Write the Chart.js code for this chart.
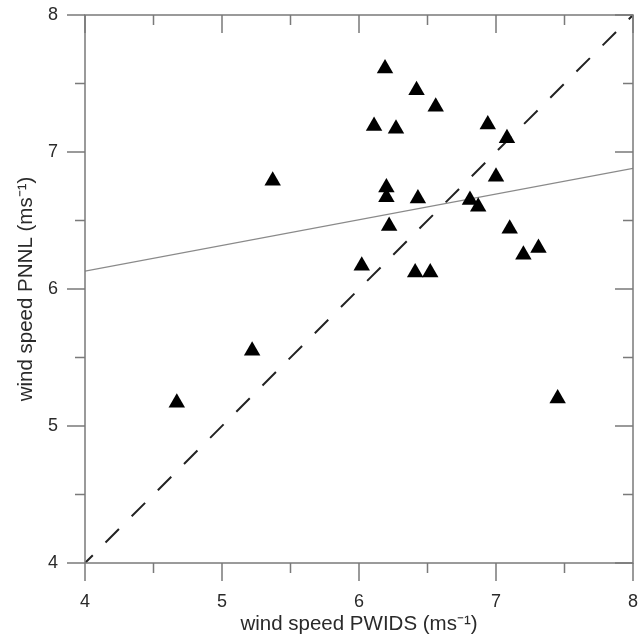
<!DOCTYPE html>
<html>
<head>
<meta charset="utf-8">
<script src="https://cdn.jsdelivr.net/npm/chart.js@4/dist/chart.umd.min.js"></script>
<style>
  html, body { margin: 0; padding: 0; background: #fff; }
  #wrap { width: 638px; height: 637px; }
</style>
</head>
<body>
<div id="wrap"><canvas id="windChart"></canvas></div>
<script>
// wind speed pairs (ms-1)
const pwidsSpeed = [6.19, 6.42, 6.56, 6.11, 6.27, 6.94, 7.08, 7.00, 6.20, 6.20, 6.43, 6.81,
                    6.87, 6.22, 7.10, 7.31, 7.20, 6.02, 6.41, 6.52, 5.37, 4.67, 5.22, 7.45];
const pnnlSpeed  = [7.61, 7.45, 7.33, 7.19, 7.17, 7.20, 7.10, 6.82, 6.74, 6.67, 6.66, 6.65,
                    6.60, 6.46, 6.44, 6.30, 6.25, 6.17, 6.12, 6.12, 6.79, 5.17, 5.55, 5.20];

// regression line end points and the 1:1 line
const fitX = [4, 8];
const fitY = [6.13, 6.88];
const oneToOne = [4, 8];

const axisMin = 4;
const axisMax = 8;
const majorTicks = [4, 5, 6, 7, 8];
const minorTicks = [4.5, 5.5, 6.5, 7.5];

const axisGray = '#7a7a7a';
const textGray = '#2a2a2a';

const pairs = (xs, ys) => xs.map((x, i) => ({ x: x, y: ys[i] }));

// frame with ticks: outward on bottom/left, inward on top/right
const frameTicks = {
    id: 'frameTicks',
    afterDatasetsDraw(chart) {
        const { ctx, chartArea: a, scales } = chart;
        const xs = scales.x, ys = scales.y;
        ctx.save();
        ctx.strokeStyle = axisGray;
        ctx.lineWidth = 1.5;
        ctx.strokeRect(a.left, a.top, a.right - a.left, a.bottom - a.top);
        ctx.beginPath();
        const tick = (vals, len) => {
            vals.forEach(v => {
                const px = xs.getPixelForValue(v);
                ctx.moveTo(px, a.bottom); ctx.lineTo(px, a.bottom + len);
                ctx.moveTo(px, a.top); ctx.lineTo(px, a.top + len);
                const py = ys.getPixelForValue(v);
                ctx.moveTo(a.left, py); ctx.lineTo(a.left - len, py);
                ctx.moveTo(a.right, py); ctx.lineTo(a.right - len, py);
            });
        };
        tick(majorTicks, 18);
        tick(minorTicks, 10);
        ctx.stroke();
        ctx.restore();
    }
};

new Chart(document.getElementById('windChart'), {
    type: 'scatter',
    data: {
        datasets: [
            {
                label: 'PNNL vs PWIDS',
                data: pairs(pwidsSpeed, pnnlSpeed),
                pointStyle: 'triangle',
                pointRadius: 9.5,
                backgroundColor: '#000',
                borderColor: '#000',
                borderWidth: 0
            },
            {
                type: 'line',
                label: 'fit',
                data: pairs(fitX, fitY),
                borderColor: '#8a8a8a',
                borderWidth: 1.3,
                pointRadius: 0,
                fill: false
            },
            {
                type: 'line',
                label: '1:1',
                data: pairs(oneToOne, oneToOne),
                borderColor: '#222',
                borderWidth: 2,
                borderDash: [19, 18],
                borderDashOffset: 8,
                pointRadius: 0,
                fill: false
            }
        ]
    },
    options: {
        responsive: true,
        maintainAspectRatio: false,
        animation: false,
        layout: { autoPadding: false, padding: { top: 15, right: 5, left: 0, bottom: 0 } },
        plugins: {
            legend: { display: false },
            tooltip: { enabled: false }
        },
        scales: {
            x: {
                type: 'linear',
                min: axisMin,
                max: axisMax,
                border: { display: false },
                grid: { display: false, drawTicks: false },
                afterBuildTicks: s => { s.ticks = majorTicks.map(v => ({ value: v })); },
                afterFit: s => { s.height = 74; s.paddingLeft = 0; s.paddingRight = 0; },
                ticks: {
                    padding: 28,
                    color: textGray,
                    font: { family: 'Liberation Sans, Arial, sans-serif', size: 18 }
                },
                title: {
                    display: true,
                    text: 'wind speed PWIDS (ms\u207B\u00B9)',
                    color: textGray,
                    padding: { top: 0, bottom: 0 },
                    font: { family: 'Liberation Sans, Arial, sans-serif', size: 20.5 }
                }
            },
            y: {
                type: 'linear',
                min: axisMin,
                max: axisMax,
                border: { display: false },
                grid: { display: false, drawTicks: false },
                afterBuildTicks: s => { s.ticks = majorTicks.map(v => ({ value: v })); },
                afterFit: s => { s.width = 85; s.paddingTop = 0; s.paddingBottom = 0; },
                ticks: {
                    padding: 27,
                    color: textGray,
                    font: { family: 'Liberation Sans, Arial, sans-serif', size: 18 }
                },
                title: {
                    display: true,
                    text: 'wind speed PNNL (ms\u207B\u00B9)',
                    color: textGray,
                    padding: { top: 14, bottom: 0 },
                    font: { family: 'Liberation Sans, Arial, sans-serif', size: 20.5 }
                }
            }
        }
    },
    plugins: [frameTicks]
});
</script>
</body>
</html>
